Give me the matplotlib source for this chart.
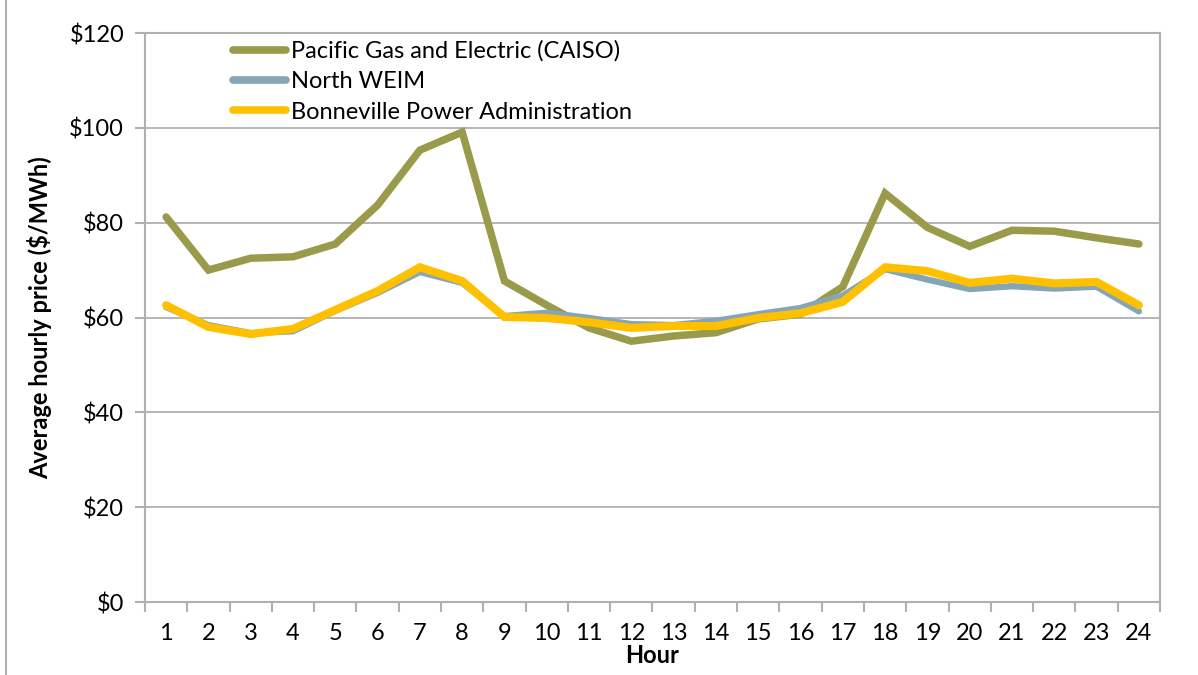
import matplotlib.pyplot as plt
from matplotlib.lines import Line2D

hours = list(range(1, 25))
pge = [81.2, 70.0, 72.5, 72.8, 75.5, 83.7, 95.3, 99.1, 67.7, 62.6, 57.8, 55.0,
       56.1, 56.8, 59.7, 60.7, 66.5, 86.2, 79.0, 75.0, 78.4, 78.2, 76.8, 75.5]
weim = [62.2, 58.4, 56.7, 57.1, 61.4, 65.2, 69.6, 67.3, 60.3, 61.0, 59.9, 58.6,
        58.4, 59.3, 60.7, 62.0, 64.6, 70.2, 68.0, 66.0, 66.6, 66.1, 66.5, 61.3]
bpa = [62.6, 58.0, 56.5, 57.6, 61.6, 65.6, 70.6, 67.7, 60.1, 59.9, 59.0, 57.8,
       58.2, 58.2, 59.9, 60.9, 63.3, 70.6, 69.8, 67.3, 68.2, 67.2, 67.5, 62.6]
yticks = [0, 20, 40, 60, 80, 100, 120]

C_PGE = "#9a9b4a"
C_WEIM = "#86a6b8"
C_BPA = "#ffc000"
GRAY = "#b0b0b0"

plt.rcParams['font.family'] = ['Lato', 'DejaVu Sans']

fig = plt.figure(figsize=(11.98, 6.75), dpi=100)
ax = fig.add_axes([145 / 1198, 73 / 675, 1015 / 1198, 569 / 675])

ax.plot(hours, pge, color=C_PGE, lw=5.4, solid_capstyle='round', solid_joinstyle='miter', zorder=3)
ax.plot(hours, weim, color=C_WEIM, lw=4.6, solid_capstyle='round', solid_joinstyle='miter', zorder=4)
ax.plot(hours, bpa, color=C_BPA, lw=5.8, solid_capstyle='round', solid_joinstyle='miter', zorder=5)

ax.set_xlim(0.5, 24.5)
ax.set_ylim(0, 120)
ax.set_yticks(yticks)
ax.set_yticklabels([f"${v}" for v in yticks], fontsize=17)
ax.set_xticks(hours)
ax.set_xticklabels([str(h) for h in hours], fontsize=17)
ax.set_xticks([h + 0.5 for h in range(0, 25)], minor=True)
ax.tick_params(axis='x', which='major', length=0, pad=15)
ax.tick_params(axis='x', which='minor', length=7, color=GRAY, width=1.5)
ax.tick_params(axis='y', length=7, color=GRAY, width=1.5, pad=8)
ax.grid(axis='y', color=GRAY, lw=1.3)
ax.set_axisbelow(True)
for s in ax.spines.values():
    s.set_color(GRAY)
    s.set_linewidth(1.5)

ax.set_xlabel("Hour", fontsize=17, fontweight='bold', labelpad=0)
ax.set_ylabel("Average hourly price ($/MWh)", fontsize=17, fontweight='bold', labelpad=12)

handles = [Line2D([], [], color=C_PGE, lw=5.5, solid_capstyle='round'),
           Line2D([], [], color=C_WEIM, lw=5.5, solid_capstyle='round'),
           Line2D([], [], color=C_BPA, lw=5.5, solid_capstyle='round')]
labels = ["Pacific Gas and Electric (CAISO)", "North WEIM", "Bonneville Power Administration"]
leg = ax.legend(handles, labels, loc='upper left', bbox_to_anchor=(0.073, 1.012),
                frameon=False, fontsize=17, handlelength=2.25, handletextpad=0.2,
                labelspacing=0.4, borderaxespad=0.2)
leg.set_zorder(6)

fig.add_artist(Line2D([6 / 1198, 6 / 1198], [0, 1], color=GRAY, lw=1.5))

fig.savefig("out.png", dpi=100)
